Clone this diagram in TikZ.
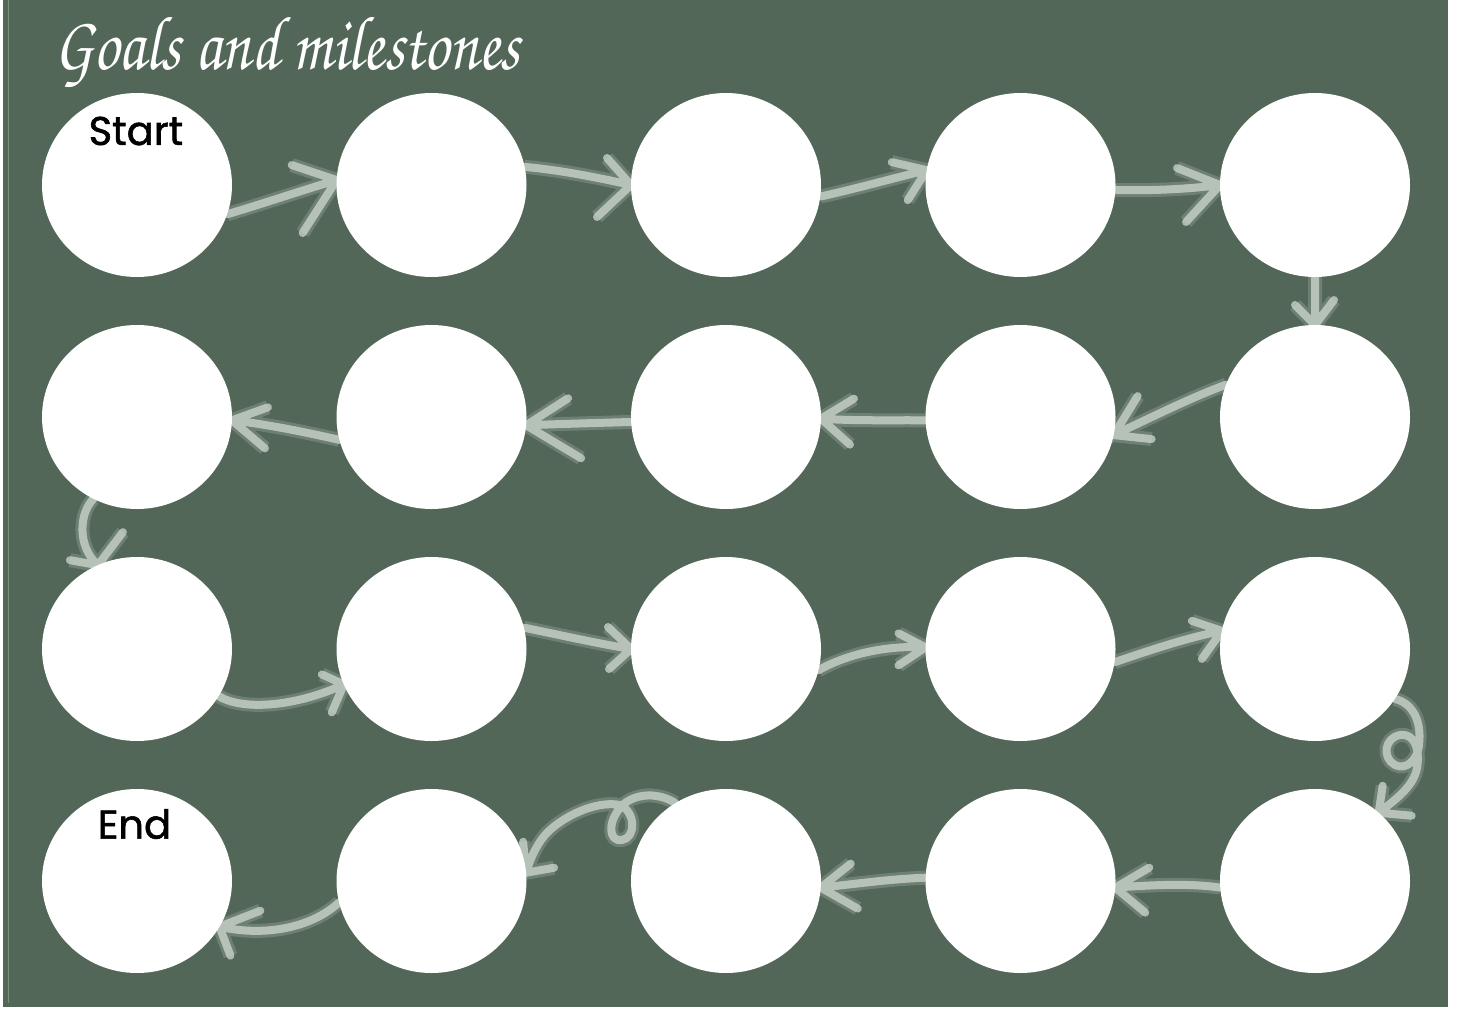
\documentclass[tikz,border=0pt]{standalone}
\usepackage{graphicx}
\usepackage{fontspec}
\usetikzlibrary{shapes.geometric}
\newfontfamily\popp{Poppins}[FakeBold=1.4]
\newfontfamily\chorusfont{texgyrechorus-mediumitalic.otf}
\definecolor{boardc}{RGB}{82,103,88}
\definecolor{chalkc}{RGB}{210,220,212}
\definecolor{edgec}{RGB}{125,143,131}
\pgfdeclarelayer{bg}
\pgfdeclarelayer{arrows}
\pgfsetlayers{bg,arrows,main}
\tikzset{
  milestone/.style={ellipse, fill=white, minimum width=190pt, minimum height=184pt, inner sep=0pt, outer sep=0pt},
  chalk/.style={draw=chalkc, line width=8pt, line cap=round, line join=round, draw opacity=0.72,
    preaction={draw=chalkc, line width=14pt, draw opacity=0.22}},
  label/.style={text=black, inner sep=0pt, font=\popp\fontsize{40}{40}\selectfont}
}
\begin{document}
\begin{tikzpicture}[x=1pt,y=-1pt]
\useasboundingbox (0,0) rectangle (1459,1009);
\begin{pgfonlayer}{bg}
\fill[white] (0,0) rectangle (1459,1009);
\fill[boardc] (3,0) rectangle (1447.5,1007);
\draw[edgec, line width=1pt] (8,0) -- (8,1003);
\end{pgfonlayer}
% milestones
\node[milestone] (c1) at (137,185) {};
\node[milestone] (c2) at (431.5,185) {};
\node[milestone] (c3) at (726,185) {};
\node[milestone] (c4) at (1020.5,185) {};
\node[milestone] (c5) at (1315,185) {};
\node[milestone] (c6) at (1315,417) {};
\node[milestone] (c7) at (1020.5,417) {};
\node[milestone] (c8) at (726,417) {};
\node[milestone] (c9) at (431.5,417) {};
\node[milestone] (c10) at (137,417) {};
\node[milestone] (c11) at (137,649) {};
\node[milestone] (c12) at (431.5,649) {};
\node[milestone] (c13) at (726,649) {};
\node[milestone] (c14) at (1020.5,649) {};
\node[milestone] (c15) at (1315,649) {};
\node[milestone] (c16) at (1315,881) {};
\node[milestone] (c17) at (1020.5,881) {};
\node[milestone] (c18) at (726,881) {};
\node[milestone] (c19) at (431.5,881) {};
\node[milestone] (c20) at (137,881) {};
% labels
\node[label] (start) at (136,131) {Start};
\node[label] (end) at (134.5,824) {End};
\node[anchor=base west, text=white, inner sep=0pt] (title) at (54,69)
  {\resizebox{466pt}{52pt}{\chorusfont\fontsize{60}{60}\selectfont Goals and milestones}};
% chalk arrows
\begin{pgfonlayer}{arrows}
\draw[chalk] (c1.-18) .. controls (262,204) and (300,191) .. (c2.177) -- +(-45,-15) (c2.177) -- +(-34,53);
\draw[chalk] (c2.11) .. controls (560,170) and (600,178) .. (c3.180) -- +(-24,-27) (c3.180) -- +(-34,32);
\draw[chalk] (c3.-7) .. controls (855,189) and (890,179) .. (c4.171) -- +(-35,-8) (c4.171) -- +(-19,30);
\draw[chalk] (c4.-3) .. controls (1150,191) and (1190,189) .. (c5.180) -- +(-43,-17) (c5.180) -- +(-34,37);
\draw[chalk] (c5.-90) -- (c6.90) -- +(-20,-20) (c6.90) -- +(19,-25);
\draw[chalk] (c6.160) .. controls (1190,398) and (1150,418) .. (c7.-11) -- +(24,-39) (c7.-11) -- +(38,4);
\draw[chalk] (c7.182) .. controls (890,420) and (855,421) .. (c8.-1) -- +(33,-20) (c8.-1) -- +(29,26);
\draw[chalk] (c8.183) .. controls (595,423) and (560,424) .. (c9.-5) -- +(42,-27) (c9.-5) -- +(55,33);
\draw[chalk] (c9.194) .. controls (305,432) and (265,424) .. (c10.-2) -- +(36,-13) (c10.-2) -- +(33,28);
\draw[chalk] (c10.242) .. controls (80,512) and (76,545) .. (c11.115) -- +(-28,-5) (c11.115) -- +(25,-33);
\draw[chalk] (c11.-30) .. controls (245,712) and (300,705) .. (c12.202) -- +(-22,-10) (c12.202) -- +(-12,28);
\draw[chalk] (c12.13) .. controls (560,635) and (595,643) .. (c13.180) -- +(-23,-22) (c13.180) -- +(-22,20);
\draw[chalk] (c13.-13) .. controls (845,655) and (885,645) .. (c14.179) -- +(-27,-14) (c14.179) -- +(-27,18);
\draw[chalk] (c14.-8) .. controls (1145,652) and (1185,638) .. (c15.169) -- +(-30,-10) (c15.169) -- +(-20,28);
\draw[chalk] (c15.-32) .. controls (1412,703) and (1422,720) .. (1419,745)
  .. controls (1417,762) and (1405,770) .. (1395,765)
  .. controls (1382,758) and (1384,738) .. (1400,735)
  .. controls (1415,733) and (1420,750) .. (1417,768)
  .. controls (1414,785) and (1398,798) .. (c16.47) -- +(33,3) (c16.47) -- +(4,-27);
\draw[chalk] (c16.184) .. controls (1190,883) and (1150,885) .. (c17.-4) -- +(34,-20) (c17.-4) -- +(30,25);
\draw[chalk] (c17.178) .. controls (890,879) and (855,884) .. (c18.-4) -- +(30,-24) (c18.-4) -- +(37,21);
\draw[chalk] (c18.123) .. controls (655,790) and (630,795) .. (620,808)
  .. controls (608,822) and (608,842) .. (622,840)
  .. controls (636,838) and (636,812) .. (620,805)
  .. controls (595,800) and (560,818) .. (545,835)
  .. controls (535,847) and (530,860) .. (c19.5) -- +(28,-5) (c19.5) -- +(-3,-31);
\draw[chalk] (c19.193) .. controls (315,925) and (270,938) .. (c20.-29) -- +(41,-16) (c20.-29) -- +(11,29);
\end{pgfonlayer}
\end{tikzpicture}
\end{document}
